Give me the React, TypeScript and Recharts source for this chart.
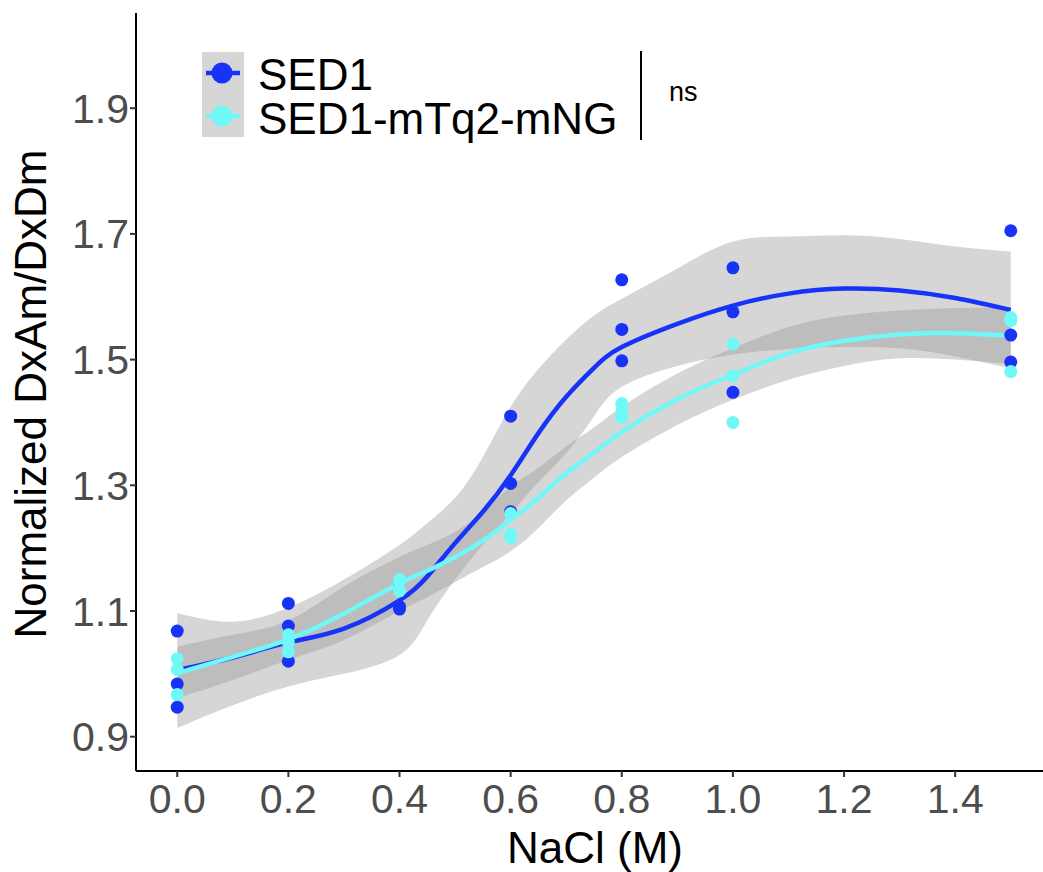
import React from 'react';
import { ComposedChart, Area, Line, Scatter, XAxis, YAxis } from 'recharts';

// NaCl concentrations (M) where replicates were measured
const concentrations = [0, 0.2, 0.4, 0.6, 0.8, 1.0, 1.5];

// SED1 replicates
const sed1Rep1 = [1.068, 1.112, 1.107, 1.41, 1.627, 1.646, 1.705];
const sed1Rep2 = [0.984, 1.076, 1.103, 1.303, 1.548, 1.576, 1.539];
const sed1Rep3 = [0.947, 1.02, 1.145, 1.258, 1.498, 1.448, 1.496];

// SED1-mTq2-mNG replicates
const tagRep1 = [1.024, 1.062, 1.15, 1.255, 1.43, 1.525, 1.567];
const tagRep2 = [1.007, 1.05, 1.145, 1.222, 1.417, 1.474, 1.562];
const tagRep3 = [0.967, 1.035, 1.132, 1.216, 1.408, 1.4, 1.481];

// Smoothed fits and confidence bands
const fitX = [0, 0.1, 0.2, 0.3, 0.4, 0.45, 0.5, 0.55, 0.6, 0.65, 0.7, 0.75, 0.8, 0.9, 1.0, 1.1, 1.2, 1.3, 1.4, 1.5];
const sed1Fit = [1.006, 1.026, 1.05, 1.072, 1.117, 1.155, 1.208, 1.258, 1.316, 1.383, 1.441, 1.487, 1.52, 1.557, 1.586, 1.605, 1.613, 1.61, 1.598, 1.579];
const sed1Upper = [1.097, 1.083, 1.105, 1.15, 1.205, 1.24, 1.28, 1.345, 1.425, 1.485, 1.532, 1.57, 1.597, 1.645, 1.688, 1.696, 1.698, 1.692, 1.68, 1.672];
const sed1Lower = [0.914, 0.95, 0.98, 1.0, 1.03, 1.085, 1.15, 1.205, 1.255, 1.305, 1.351, 1.41, 1.457, 1.49, 1.508, 1.517, 1.52, 1.518, 1.505, 1.486];
const tagFit = [1.001, 1.027, 1.055, 1.096, 1.144, 1.164, 1.186, 1.212, 1.245, 1.28, 1.319, 1.352, 1.385, 1.437, 1.476, 1.51, 1.53, 1.54, 1.542, 1.538];
const tagUpper = [1.043, 1.062, 1.085, 1.139, 1.186, 1.205, 1.226, 1.258, 1.298, 1.328, 1.362, 1.392, 1.425, 1.478, 1.518, 1.552, 1.57, 1.578, 1.582, 1.583];
const tagLower = [0.961, 0.99, 1.022, 1.054, 1.1, 1.122, 1.146, 1.17, 1.195, 1.232, 1.276, 1.312, 1.345, 1.396, 1.436, 1.468, 1.49, 1.502, 1.5, 1.493];

const xTicks = [0, 0.2, 0.4, 0.6, 0.8, 1.0, 1.2, 1.4];
const yTicks = [0.9, 1.1, 1.3, 1.5, 1.7, 1.9];

const seriesNames = ['SED1', 'SED1-mTq2-mNG'];
const BLUE = '#1733f7';
const CYAN = '#70f8f8';
const FONT = '"Liberation Sans", Arial, Helvetica, sans-serif';

const toPoints = (reps: number[][]) =>
  concentrations.flatMap((x, i) => reps.map((r) => ({ x, y: r[i] })));

const sed1Points = toPoints([sed1Rep1, sed1Rep2, sed1Rep3]);
const tagPoints = toPoints([tagRep1, tagRep2, tagRep3]);

const toCurve = (fit: number[], lo: number[], hi: number[]) =>
  fitX.map((x, i) => ({ x, fit: fit[i], band: [lo[i], hi[i]] }));

const sed1Curve = toCurve(sed1Fit, sed1Lower, sed1Upper);
const tagCurve = toCurve(tagFit, tagLower, tagUpper);

const makeDot = (color: string) => (props: any) =>
  <circle cx={props.cx} cy={props.cy} r={6.5} fill={color} />;

export default function App() {
  const tickStyle = { fill: '#4d4d4d', fontSize: 41, fontFamily: FONT };
  return (
    <div style={{ position: 'absolute', left: 0, top: 0, width: 1043, height: 872, background: '#fff', overflow: 'hidden' }}>
      <ComposedChart
        width={1043}
        height={872}
        margin={{ top: 13, right: 0, bottom: 0, left: 0 }}
        style={{ fontFamily: FONT }}
      >
        <XAxis
          type="number"
          dataKey="x"
          domain={[-0.0742, 1.558]}
          ticks={xTicks}
          interval={0}
          allowDataOverflow
          height={101}
          tickFormatter={(v: number) => v.toFixed(1)}
          tick={tickStyle}
          tickSize={6}
          tickMargin={7}
          axisLine={{ stroke: '#000', strokeWidth: 2 }}
          tickLine={{ stroke: '#333', strokeWidth: 2 }}
        />
        <YAxis
          type="number"
          domain={[0.8454, 2.0515]}
          ticks={yTicks}
          interval={0}
          allowDataOverflow
          width={136}
          tickFormatter={(v: number) => v.toFixed(1)}
          tick={tickStyle}
          tickSize={6}
          tickMargin={1}
          axisLine={{ stroke: '#000', strokeWidth: 2 }}
          tickLine={{ stroke: '#333', strokeWidth: 2 }}
        />
        <Area data={sed1Curve} dataKey="band" type="natural" stroke="none" fill="#999999" fillOpacity={0.4} isAnimationActive={false} />
        <Line data={sed1Curve} dataKey="fit" type="natural" stroke={BLUE} strokeWidth={4.5} dot={false} activeDot={false} isAnimationActive={false} />
        <Area data={tagCurve} dataKey="band" type="natural" stroke="none" fill="#999999" fillOpacity={0.4} isAnimationActive={false} />
        <Line data={tagCurve} dataKey="fit" type="natural" stroke={CYAN} strokeWidth={4.5} dot={false} activeDot={false} isAnimationActive={false} />
        <Scatter data={sed1Points} dataKey="y" shape={makeDot(BLUE)} isAnimationActive={false} />
        <Scatter data={tagPoints} dataKey="y" shape={makeDot(CYAN)} isAnimationActive={false} />
      </ComposedChart>
      <svg width={1043} height={872} style={{ position: 'absolute', left: 0, top: 0, pointerEvents: 'none' }} fontFamily={FONT}>
        <text x={595} y={863} fontSize={44} textAnchor="middle" fill="#000">NaCl (M)</text>
        <text x={46} y={394} fontSize={44} textAnchor="middle" fill="#000" transform="rotate(-90 46 394)">Normalized DxAm/DxDm</text>
        <rect x={202} y={52} width={42} height={85} fill="#d6d6d6" />
        <line x1={206} x2={240} y1={73} y2={73} stroke={BLUE} strokeWidth={4.5} />
        <circle cx={222} cy={73} r={10.5} fill={BLUE} />
        <line x1={206} x2={240} y1={116} y2={116} stroke={CYAN} strokeWidth={4.5} />
        <circle cx={222} cy={116} r={10.5} fill={CYAN} />
        <text x={258} y={90} fontSize={44} fill="#000">{seriesNames[0]}</text>
        <text x={258} y={134} fontSize={44} fill="#000">{seriesNames[1]}</text>
        <line x1={641} x2={641} y1={51} y2={140} stroke="#000" strokeWidth={2} />
        <text x={669} y={101} fontSize={27} fill="#000">ns</text>
      </svg>
    </div>
  );
}
